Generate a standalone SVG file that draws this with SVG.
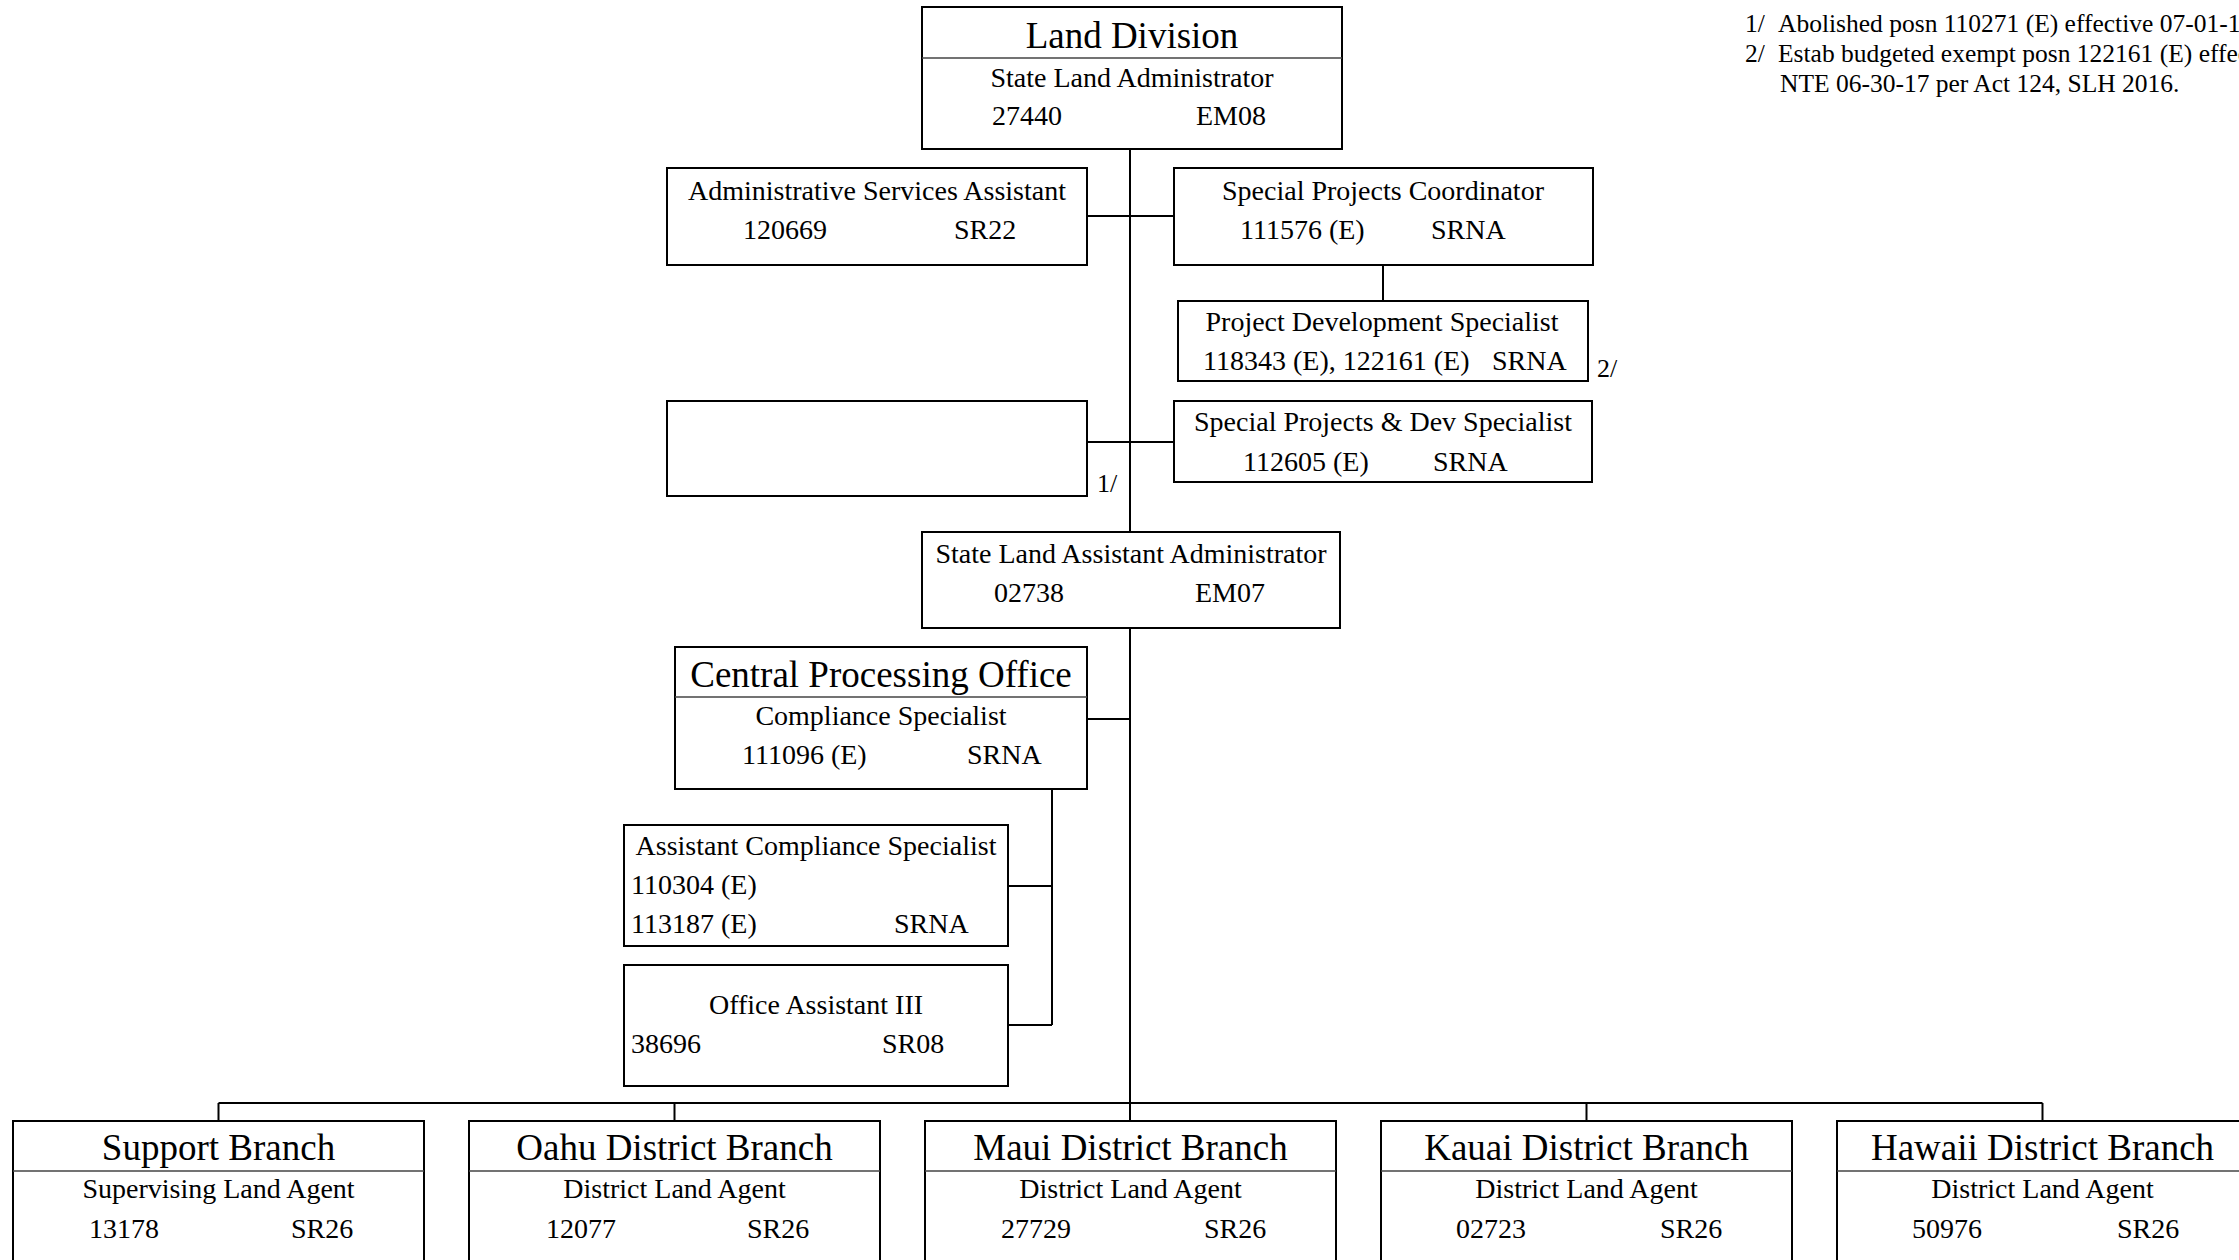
<svg xmlns="http://www.w3.org/2000/svg" width="2239" height="1260" viewBox="0 0 2239 1260">
<style>
.bx{fill:#fff;stroke:#000;stroke-width:2}
.dv{stroke:#444;stroke-width:1.5;fill:none}
.cn{stroke:#000;stroke-width:2;fill:none}
text{font-family:"Liberation Serif","Times New Roman",serif;fill:#000}
.t{font-size:28px}
.h{font-size:37px;text-anchor:middle}
.m{text-anchor:middle}
.fn{font-size:25.5px}
.nt{font-size:26px}
</style>
<rect width="2239" height="1260" fill="#fff"/>
<g id="connectors">
<line class="cn" x1="1130" y1="149" x2="1130" y2="532"/>
<line class="cn" x1="1130" y1="628" x2="1130" y2="1121"/>
<line class="cn" x1="1087" y1="216" x2="1174" y2="216"/>
<line class="cn" x1="1383" y1="265" x2="1383" y2="301"/>
<line class="cn" x1="1087" y1="442" x2="1174" y2="442"/>
<line class="cn" x1="1087" y1="719" x2="1130" y2="719"/>
<line class="cn" x1="1052" y1="789" x2="1052" y2="1025"/>
<line class="cn" x1="1008" y1="886" x2="1052" y2="886"/>
<line class="cn" x1="1008" y1="1025" x2="1052" y2="1025"/>
<line class="cn" x1="218.5" y1="1103" x2="2042.5" y2="1103"/>
<line class="cn" x1="218.5" y1="1103" x2="218.5" y2="1121"/>
<line class="cn" x1="674.5" y1="1103" x2="674.5" y2="1121"/>
<line class="cn" x1="1586.5" y1="1103" x2="1586.5" y2="1121"/>
<line class="cn" x1="2042.5" y1="1103" x2="2042.5" y2="1121"/>
</g>
<g id="land-division">
<rect class="bx" x="922" y="7" width="420" height="142"/>
<line class="dv" x1="922" y1="58" x2="1342" y2="58"/>
<text class="h" x="1132" y="48">Land Division</text>
<text class="t m" x="1132" y="87">State Land Administrator</text>
<text class="t" x="992" y="125">27440</text>
<text class="t" x="1196" y="125">EM08</text>
</g>
<g id="admin-services-assistant">
<rect class="bx" x="667" y="168" width="420" height="97"/>
<text class="t m" x="877" y="200">Administrative Services Assistant</text>
<text class="t" x="743" y="239">120669</text>
<text class="t" x="954" y="239">SR22</text>
</g>
<g id="special-projects-coordinator">
<rect class="bx" x="1174" y="168" width="419" height="97"/>
<text class="t m" x="1383" y="200">Special Projects Coordinator</text>
<text class="t" x="1240" y="239">111576 (E)</text>
<text class="t" x="1431" y="239">SRNA</text>
</g>
<g id="project-development-specialist">
<rect class="bx" x="1178" y="301" width="410" height="80"/>
<text class="t m" x="1382" y="331">Project Development Specialist</text>
<text class="t" x="1203" y="370">118343 (E), 122161 (E)</text>
<text class="t" x="1492" y="370">SRNA</text>
<text class="nt" x="1597" y="377">2/</text>
</g>
<g id="abolished-position">
<rect class="bx" x="667" y="401" width="420" height="95"/>
<text class="nt" x="1097" y="492">1/</text>
</g>
<g id="special-projects-dev-specialist">
<rect class="bx" x="1174" y="401" width="418" height="81"/>
<text class="t m" x="1383" y="431">Special Projects &amp; Dev Specialist</text>
<text class="t" x="1243" y="471">112605 (E)</text>
<text class="t" x="1433" y="471">SRNA</text>
</g>
<g id="state-land-assistant-administrator">
<rect class="bx" x="922" y="532" width="418" height="96"/>
<text class="t m" x="1131" y="563">State Land Assistant Administrator</text>
<text class="t" x="994" y="602">02738</text>
<text class="t" x="1195" y="602">EM07</text>
</g>
<g id="central-processing-office">
<rect class="bx" x="675" y="647" width="412" height="142"/>
<line class="dv" x1="675" y1="697" x2="1087" y2="697"/>
<text class="h" x="881" y="687">Central Processing Office</text>
<text class="t m" x="881" y="725">Compliance Specialist</text>
<text class="t" x="742" y="764">111096 (E)</text>
<text class="t" x="967" y="764">SRNA</text>
</g>
<g id="assistant-compliance-specialist">
<rect class="bx" x="624" y="825" width="384" height="121"/>
<text class="t m" x="816" y="855">Assistant Compliance Specialist</text>
<text class="t" x="631" y="894">110304 (E)</text>
<text class="t" x="631" y="933">113187 (E)</text>
<text class="t" x="894" y="933">SRNA</text>
</g>
<g id="office-assistant-iii">
<rect class="bx" x="624" y="965" width="384" height="121"/>
<text class="t m" x="816" y="1014">Office Assistant III</text>
<text class="t" x="631" y="1053">38696</text>
<text class="t" x="882" y="1053">SR08</text>
</g>
<g id="support-branch">
<rect class="bx" x="13" y="1121" width="411" height="160"/>
<line class="dv" x1="13" y1="1171" x2="424" y2="1171"/>
<text class="h" x="218.5" y="1160">Support Branch</text>
<text class="t m" x="218.5" y="1198">Supervising Land Agent</text>
<text class="t" x="89" y="1238">13178</text>
<text class="t" x="291" y="1238">SR26</text>
</g>
<g id="oahu-district-branch">
<rect class="bx" x="469" y="1121" width="411" height="160"/>
<line class="dv" x1="469" y1="1171" x2="880" y2="1171"/>
<text class="h" x="674.5" y="1160">Oahu District Branch</text>
<text class="t m" x="674.5" y="1198">District Land Agent</text>
<text class="t" x="546" y="1238">12077</text>
<text class="t" x="747" y="1238">SR26</text>
</g>
<g id="maui-district-branch">
<rect class="bx" x="925" y="1121" width="411" height="160"/>
<line class="dv" x1="925" y1="1171" x2="1336" y2="1171"/>
<text class="h" x="1130.5" y="1160">Maui District Branch</text>
<text class="t m" x="1130.5" y="1198">District Land Agent</text>
<text class="t" x="1001" y="1238">27729</text>
<text class="t" x="1204" y="1238">SR26</text>
</g>
<g id="kauai-district-branch">
<rect class="bx" x="1381" y="1121" width="411" height="160"/>
<line class="dv" x1="1381" y1="1171" x2="1792" y2="1171"/>
<text class="h" x="1586.5" y="1160">Kauai District Branch</text>
<text class="t m" x="1586.5" y="1198">District Land Agent</text>
<text class="t" x="1456" y="1238">02723</text>
<text class="t" x="1660" y="1238">SR26</text>
</g>
<g id="hawaii-district-branch">
<rect class="bx" x="1837" y="1121" width="411" height="160"/>
<line class="dv" x1="1837" y1="1171" x2="2248" y2="1171"/>
<text class="h" x="2042.5" y="1160">Hawaii District Branch</text>
<text class="t m" x="2042.5" y="1198">District Land Agent</text>
<text class="t" x="1912" y="1238">50976</text>
<text class="t" x="2117" y="1238">SR26</text>
</g>
<g id="footnotes">
<text class="fn" x="1745" y="32">1/</text>
<text class="fn" x="1778" y="32">Abolished posn 110271 (E) effective 07-01-16.</text>
<text class="fn" x="1745" y="62">2/</text>
<text class="fn" x="1778" y="62">Estab budgeted exempt posn 122161 (E) effective 07-01-16,</text>
<text class="fn" x="1780" y="92">NTE 06-30-17 per Act 124, SLH 2016.</text>
</g>
</svg>
